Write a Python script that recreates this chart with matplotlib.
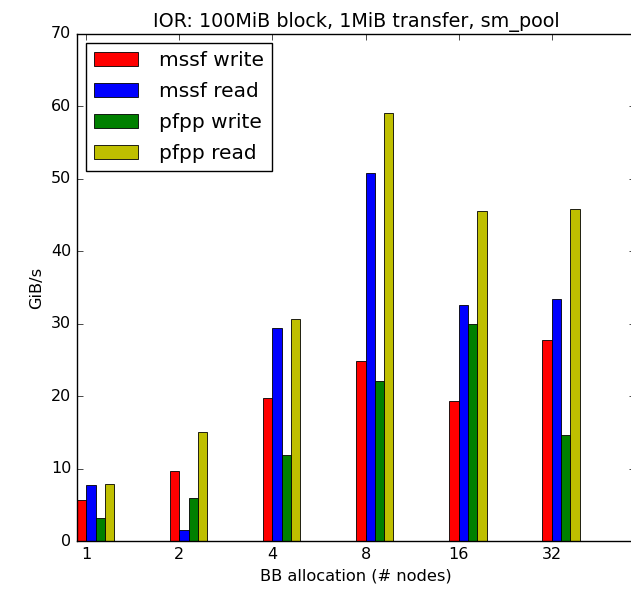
import matplotlib
matplotlib.use("Agg")
import matplotlib.pyplot as plt
import numpy as np

plt.style.use('classic')

categories = ["1", "2", "4", "8", "16", "32"]
mssf_write = [5.6, 9.7, 19.7, 24.8, 19.3, 27.8]
mssf_read = [7.8, 1.5, 29.4, 50.8, 32.6, 33.4]
pfpp_write = [3.2, 6.0, 11.9, 22.1, 30.0, 14.7]
pfpp_read = [7.9, 15.0, 30.6, 59.1, 45.5, 45.9]

fig = plt.figure(figsize=(6.31, 5.92), dpi=100, facecolor='white')
ax = fig.add_axes([0.122, 0.0861, 0.885, 0.8565])

ind = np.arange(len(categories))
w = 0.1
series = [(mssf_write, 'r', 'mssf write'), (mssf_read, 'b', 'mssf read'),
          (pfpp_write, 'g', 'pfpp write'), (pfpp_read, 'y', 'pfpp read')]
for i, (vals, c, lab) in enumerate(series):
    ax.bar(ind + i * w, vals, w, color=c, label=lab, align='edge', edgecolor='black', linewidth=0.6)

ax.set_xlim(0, 6)
ax.set_ylim(0, 70)
ax.set_xticks(ind + w)
ax.set_xticklabels(categories, fontsize=11.5)
ax.tick_params(axis='y', labelsize=11.5)
ax.set_xlabel("BB allocation (# nodes)", fontsize=11.7)
ax.set_ylabel("GiB/s", fontsize=11.7)
ax.set_title("IOR: 100MiB block, 1MiB transfer, sm_pool", fontsize=13.8)
leg = ax.legend(loc='upper left', fontsize=14.5, handlelength=2.2, borderaxespad=0.45,
                labelspacing=0.6, handletextpad=1.0)

fig.savefig("out.png", dpi=100, facecolor='white')
